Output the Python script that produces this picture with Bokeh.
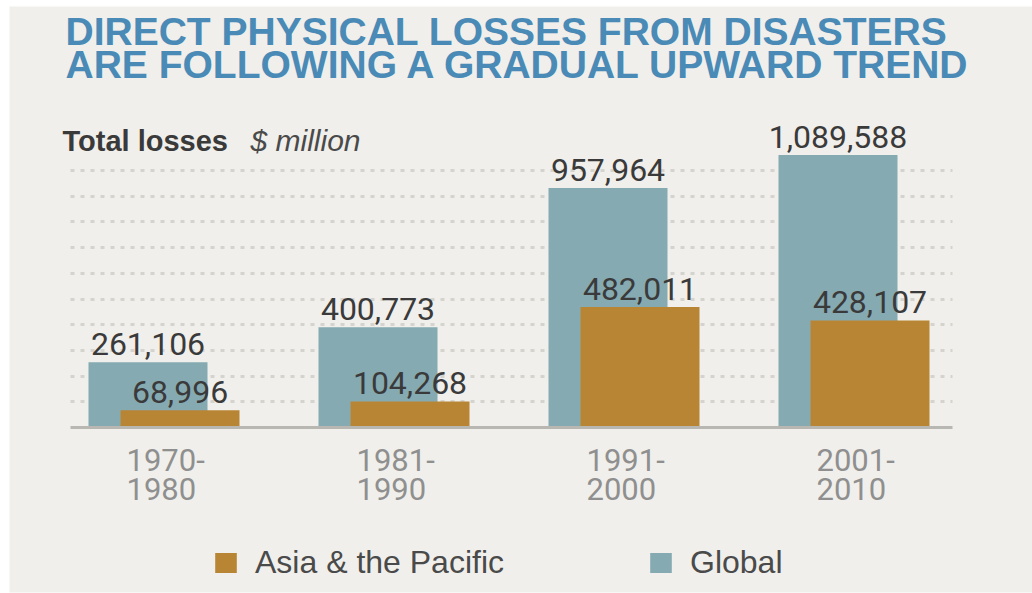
from bokeh.plotting import figure
from bokeh.models import ColumnDataSource, Grid, FixedTicker, Legend, LegendItem, Range1d
from bokeh.core.properties import value
from bokeh.embed import file_html
from bokeh.resources import INLINE

# ---------------- data ----------------
periods = ["1970-1980", "1981-1990", "1991-2000", "2001-2010"]
global_losses = [261106, 400773, 957964, 1089588]
asia_losses = [68996, 104268, 482011, 428107]
series_names = ["Asia & the Pacific", "Global"]
title_lines = ["DIRECT PHYSICAL LOSSES FROM DISASTERS", "ARE FOLLOWING A GRADUAL UPWARD TREND"]
unit_bold = "Total losses"
unit_italic = "$ million"

# ---------------- style / layout ----------------
W, H = 1032, 593
LEFT, TOP, BOTTOM = 9, 6, 1
BG = "#f0efeb"
C_GLOBAL = "#86aab2"
C_ASIA = "#b88535"
C_TITLE = "#4a8ab6"
NUM_FONT = "Roboto"
TXT_FONT = "Liberation Sans"
K_BASE = 0.35      # empirical baseline correction (fraction of font size)

PX_PER_GROUP = 230.0
UNITS_PER_PX = 4000.0
X0_PX = 147.5      # page x of first group's global-bar centre
BASE_PX = 427.0    # page y of the zero line
GRID_STEP = 25.7 * UNITS_PER_PX


def dx(px):
    return (px - X0_PX) / PX_PER_GROUP


def dy(py):
    return (BASE_PX - py) * UNITS_PER_PX


def base_y(py, size):
    return dy(py - K_BASE * size)


bar_w = 119 / PX_PER_GROUP
asia_shift = 32 / PX_PER_GROUP

NUM_SIZE = 32
LAB_SIZE = 31

idx = list(range(len(periods)))
src = ColumnDataSource(dict(
    xg=idx,
    xa=[i + asia_shift for i in idx],
    glob=global_losses,
    asia=asia_losses,
    glob_lbl=[f"{v:,}" for v in global_losses],
    asia_lbl=[f"{v:,}" for v in asia_losses],
    xl=[i - 21.5 / PX_PER_GROUP for i in idx],
    l1=[s.split("-")[0] + "-" for s in periods],
    l2=[s.split("-")[1] for s in periods],
))

p = figure(width=W, height=H,
           x_range=Range1d(dx(LEFT), dx(W)),
           y_range=Range1d(dy(H - BOTTOM), dy(TOP)),
           output_backend="svg", toolbar_location=None,
           x_axis_type=None, y_axis_type=None,
           min_border_left=LEFT, min_border_top=TOP,
           min_border_right=0, min_border_bottom=BOTTOM,
           border_fill_color="white", background_fill_color=BG,
           outline_line_color=None)

grid = Grid(dimension=1,
            ticker=FixedTicker(ticks=[GRID_STEP * k for k in range(1, 11)]),
            grid_line_color="#d5d3ce", grid_line_width=3, grid_line_dash="4 6",
            cross_bounds=(dx(70), dx(952)))
p.add_layout(grid)

gl = p.vbar(x="xg", top="glob", bottom=0, width=bar_w, source=src,
            fill_color=C_GLOBAL, line_color=None)
al = p.vbar(x="xa", top="asia", bottom=0, width=bar_w, source=src,
            fill_color=C_ASIA, line_color=None)

p.segment(x0=dx(70), x1=dx(952), y0=0, y1=0, line_width=3, line_color="#b9b7b2")

num_kw = dict(text_font=value(NUM_FONT), text_font_size=f"{NUM_SIZE}px",
              text_color="#3a3a3a", text_align="center",
              text_baseline="alphabetic", y_offset=-(7 + K_BASE * NUM_SIZE))
p.text(x="xg", y="glob", text="glob_lbl", source=src, **num_kw)
p.text(x="xa", y="asia", text="asia_lbl", source=src, **num_kw)

lab_kw = dict(text_font=value(NUM_FONT), text_font_size=f"{LAB_SIZE}px",
              text_color="#8f8f8f", text_align="left", text_baseline="alphabetic")
p.text(x="xl", y=base_y(470, LAB_SIZE), text="l1", source=src, **lab_kw)
p.text(x="xl", y=base_y(499, LAB_SIZE), text="l2", source=src, **lab_kw)

# title and unit line
for line, ypx in zip(title_lines, [44.5, 78]):
    p.text(x=[dx(65)], y=[base_y(ypx, 39)], text=[line], text_font=value(TXT_FONT),
           text_font_style="bold", text_font_size="39px", text_color=C_TITLE,
           text_baseline="alphabetic")
p.text(x=[dx(62)], y=[base_y(150.5, 29)], text=[unit_bold], text_font=value(TXT_FONT),
       text_font_style="bold", text_font_size="29px", text_color="#3a3a3a",
       text_baseline="alphabetic")
p.text(x=[dx(250)], y=[base_y(150.5, 30)], text=[unit_italic], text_font=value(TXT_FONT),
       text_font_style="italic", text_font_size="30px", text_color="#4a4a4a",
       text_baseline="alphabetic")

legend = Legend(items=[LegendItem(label=series_names[0], renderers=[al]),
                       LegendItem(label=series_names[1], renderers=[gl])],
                orientation="horizontal", location=(203, 11),
                padding=0, margin=0, spacing=143, label_standoff=16,
                glyph_width=27, glyph_height=25,
                label_text_font=TXT_FONT, label_text_font_size="32px",
                label_text_color="#4a4a4a", border_line_color=None,
                background_fill_alpha=0)
p.add_layout(legend)

open("out.html", "w").write(file_html(p, INLINE))
